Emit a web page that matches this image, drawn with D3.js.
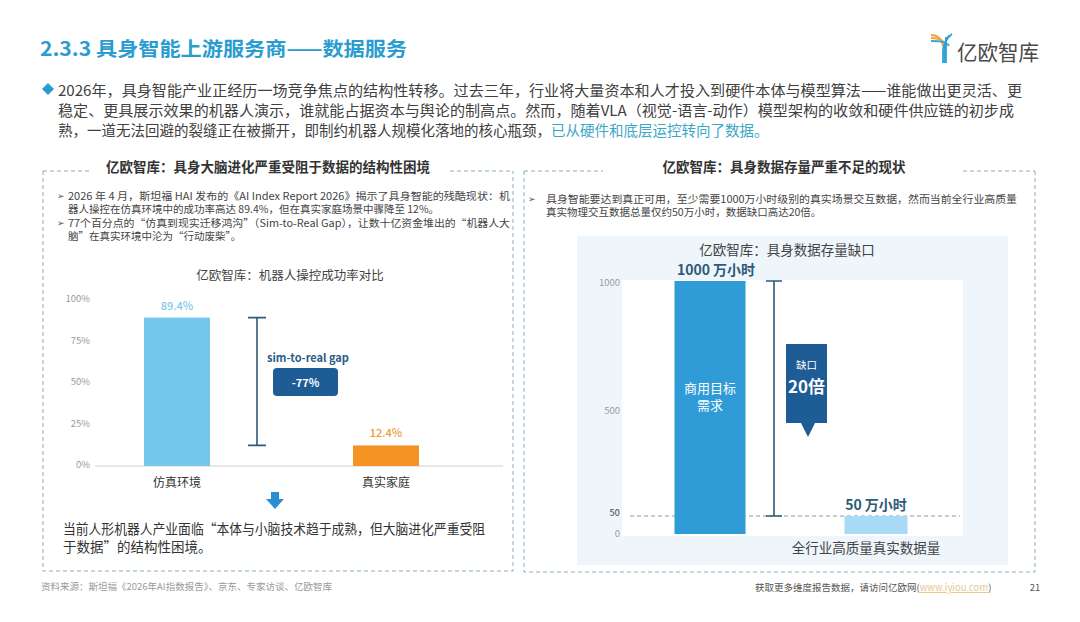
<!DOCTYPE html>
<html>
<head>
<meta charset="utf-8">
<script src="https://cdn.jsdelivr.net/npm/d3@7"></script>
<style>
  body { margin: 0; background: #fff; }
  svg { display: block; font-family: "Noto Sans CJK SC", "Noto Sans", sans-serif; }
</style>
</head>
<body>
<div id="chart"></div>
<script>
// données du graphique de gauche
const simCats = ["仿真环境", "真实家庭"];
const simValues = [89.4, 12.4];
const simLabels = ["89.4%", "12.4%"];
const simColors = ["#74c8ee", "#f39324"];
const simTicks = [0, 25, 50, 75, 100];
const gapLabel = "-77%";

// données du graphique de droite
const dataCats = ["商用目标需求", "全行业高质量真实数据量"];
const dataValues = [1000, 50];
const dataLabels = ["1000 万小时", "50 万小时"];
const dataColors = ["#2f9cd8", "#a8d9f5"];
const dataTicks = [0, 50, 500, 1000];
const gapTimes = "20倍";

const W = 1080, H = 622;
const svg = d3.select("#chart").append("svg")
    .attr("width", W).attr("height", H);

// petite fonction pour ajouter du texte
function txt(g, x, y, s, o) {
    o = o || {};
    const t = g.append("text")
        .attr("x", x).attr("y", y)
        .attr("dominant-baseline", "central")
        .attr("text-anchor", o.anchor || "start")
        .attr("font-size", o.size || 12)
        .attr("font-weight", o.weight || "normal")
        .attr("fill", o.color || "#333")
        .text(s);
    if (o.len) t.attr("textLength", o.len).attr("lengthAdjust", "spacingAndGlyphs");
    return t;
}

// ---- en-tête ----
txt(svg, 40, 47, "2.3.3 具身智能上游服务商——数据服务", { size: 19.5, weight: "bold", color: "#2a9dd0", len: 367 });

// logo
const logo = svg.append("g");
[["#f4a340", 0], ["#f4a340", 3], ["#3aa7dc", 6]].forEach(([c, k]) => {
    logo.append("path")
        .attr("d", `M${931 + 0},${35 + k} Q${941 + k},${35 + k} ${943 + k},${46}`)
        .attr("fill", "none").attr("stroke", c).attr("stroke-width", 1.8);
});
[0, 3, 6].forEach(k => {
    logo.append("path")
        .attr("d", `M${952 - k},${34 + k / 2} Q${944 + k / 3},${40} ${943 + k / 2},${50} L${943 + k / 2},63`)
        .attr("fill", "none").attr("stroke", "#2f9fd6").attr("stroke-width", 1.8);
});
txt(svg, 957, 51, "亿欧智库", { size: 21, color: "#4a4a4a", len: 82 });

// paragraphe principal
svg.append("path").attr("d", "M42,89 l6,-6 l6,6 l-6,6 z").attr("fill", "#2a9dd0");
txt(svg, 58, 89, "2026年，具身智能产业正经历一场竞争焦点的结构性转移。过去三年，行业将大量资本和人才投入到硬件本体与模型算法——谁能做出更灵活、更",
    { size: 14.5, color: "#404040", len: 964 });
txt(svg, 58, 109, "稳定、更具展示效果的机器人演示，谁就能占据资本与舆论的制高点。然而，随着VLA（视觉-语言-动作）模型架构的收敛和硬件供应链的初步成",
    { size: 14.5, color: "#404040", len: 956 });
const l3 = txt(svg, 58, 129, "", { size: 14.5, color: "#404040" });
l3.append("tspan").text("熟，一道无法回避的裂缝正在被撕开，即制约机器人规模化落地的核心瓶颈，");
l3.append("tspan").attr("fill", "#3aa6c8").text("已从硬件和底层运控转向了数据。");

// ---- cadres en pointillés ----
function panel(x0, x1, y0, y1, title, cx, g0, g1) {
    const g = svg.append("g");
    const dash = { stroke: "#86aec2", "stroke-width": 1, "stroke-dasharray": "4,3", fill: "none" };
    const p = g.append("path")
        .attr("d", `M${x0},${y0} L${x0},${y1} L${x1},${y1} L${x1},${y0} M${x0},${y0} L${g0},${y0} M${g1},${y0} L${x1},${y0}`);
    Object.entries(dash).forEach(([k, v]) => p.attr(k, v));
    txt(g, cx, 166, title, { anchor: "middle", size: 13.5, weight: "bold", color: "#333" });
    return g;
}
panel(43, 513, 171, 571, "亿欧智库：具身大脑进化严重受阻于数据的结构性困境", 268, 90, 450);
panel(524, 1035, 171, 572, "亿欧智库：具身数据存量严重不足的现状", 784, 603, 963);

// puces gauche
const bl = svg.append("g");
txt(bl, 57, 195, "➢", { size: 9, color: "#555" });
txt(bl, 68, 195, "2026 年 4 月，斯坦福 HAI 发布的《AI Index Report 2026》揭示了具身智能的残酷现状：机", { size: 10.5, color: "#444", len: 442 });
txt(bl, 68, 208, "器人操控在仿真环境中的成功率高达 89.4%，但在真实家庭场景中骤降至 12%。", { size: 10.5, color: "#444" });
txt(bl, 57, 222, "➢", { size: 9, color: "#555" });
txt(bl, 68, 222, "77个百分点的“仿真到现实迁移鸿沟”（Sim-to-Real Gap），让数十亿资金堆出的“机器人大", { size: 10.5, color: "#444", len: 442 });
txt(bl, 68, 235, "脑”在真实环境中沦为“行动废柴”。", { size: 10.5, color: "#444" });

// ---- graphique gauche ----
const gl = svg.append("g");
txt(gl, 290, 274, "亿欧智库：机器人操控成功率对比", { anchor: "middle", size: 12.5, color: "#444" });

const yL = d3.scaleLinear().domain([0, 100]).range([466, 300]);
const xL = d3.scalePoint().domain(simCats).range([177, 386]);
const barWL = 66;

simTicks.forEach(t => txt(gl, 90, yL(t) - 2, t + "%", { anchor: "end", size: 9.5, color: "#9a9a9a" }));
gl.append("line").attr("x1", 95).attr("x2", 503).attr("y1", yL(0)).attr("y2", yL(0))
    .attr("stroke", "#d0d0d0").attr("stroke-width", 1);

gl.selectAll(".barL").data(simValues).enter().append("rect")
    .attr("x", (d, i) => xL(simCats[i]) - barWL / 2)
    .attr("y", d => yL(d))
    .attr("width", barWL)
    .attr("height", d => yL(0) - yL(d))
    .attr("fill", (d, i) => simColors[i]);

gl.selectAll(".valL").data(simValues).enter().append("text")
    .attr("x", (d, i) => xL(simCats[i]))
    .attr("y", d => yL(d) - 13)
    .attr("text-anchor", "middle").attr("dominant-baseline", "central")
    .attr("font-size", 11).attr("font-weight", 500)
    .attr("fill", (d, i) => i === 0 ? "#7ec8ea" : "#eb9c3a")
    .text((d, i) => simLabels[i]);

simCats.forEach(c => txt(gl, xL(c), 481, c, { anchor: "middle", size: 12, color: "#333" }));

// écart sim-to-real
const bx = xL(simCats[0]) + 80;
gl.append("path")
    .attr("d", `M${bx - 9},${yL(simValues[0])} H${bx + 9} M${bx},${yL(simValues[0])} V${yL(simValues[1])} M${bx - 9},${yL(simValues[1])} H${bx + 9}`)
    .attr("stroke", "#2c5a78").attr("stroke-width", 1.6).attr("fill", "none");
txt(gl, 308, 357, "sim-to-real gap", { anchor: "middle", size: 11, weight: "bold", color: "#2b5c87" });
gl.append("rect").attr("x", 273).attr("y", 368).attr("width", 65).attr("height", 28).attr("rx", 4)
    .attr("fill", "#1e5c96");
txt(gl, 305.5, 382, gapLabel, { anchor: "middle", size: 11, weight: "bold", color: "#fff" });

// flèche vers le bas
gl.append("path").attr("d", "M271,492 h8 v7 h5 l-9,10 l-9,-10 h5 z").attr("fill", "#2a8fd0");

txt(gl, 63, 528, "当前人形机器人产业面临“本体与小脑技术趋于成熟，但大脑进化严重受阻", { size: 13.5, color: "#333", len: 422 });
txt(gl, 63, 546, "于数据”的结构性困境。", { size: 13.5, color: "#333" });

// ---- panneau droit ----
const gr = svg.append("g");
txt(gr, 528, 198, "➢", { size: 9, color: "#555" });
txt(gr, 546, 198, "具身智能要达到真正可用，至少需要1000万小时级别的真实场景交互数据，然而当前全行业高质量", { size: 10.5, color: "#444", len: 471 });
txt(gr, 546, 211, "真实物理交互数据总量仅约50万小时，数据缺口高达20倍。", { size: 10.5, color: "#444" });

gr.append("rect").attr("x", 577).attr("y", 236).attr("width", 431).attr("height", 329).attr("fill", "#eef6fc");
gr.append("rect").attr("x", 622).attr("y", 280).attr("width", 341).attr("height", 256).attr("fill", "#fff");
txt(gr, 787, 249, "亿欧智库：具身数据存量缺口", { anchor: "middle", size: 13.5, color: "#444" });

const yR = d3.scaleLinear().domain([0, 50, 500, 1000]).range([534, 516, 409, 281]);
const xR = d3.scalePoint().domain(dataCats).range([710, 876]);
const barWR = [71, 63];

dataTicks.forEach(t => txt(gr, 620, yR(t) + (t === 0 ? -1 : t === 50 ? -4 : 1), t, {
    anchor: "end", size: 9.5, color: t === 50 ? "#666" : "#9a9a9a", weight: t === 50 ? 500 : "normal"
}));

gr.append("line").attr("x1", 630).attr("x2", 960).attr("y1", yR(50)).attr("y2", yR(50))
    .attr("stroke", "#8a9aa6").attr("stroke-width", 1).attr("stroke-dasharray", "4,3");

const cxR = c => xR(c);
gr.selectAll(".barR").data(dataValues).enter().append("rect")
    .attr("x", (d, i) => cxR(dataCats[i]) - barWR[i] / 2)
    .attr("y", d => yR(d))
    .attr("width", (d, i) => barWR[i])
    .attr("height", d => yR(0) - yR(d))
    .attr("fill", (d, i) => dataColors[i]);

gr.selectAll(".valR").data(dataValues).enter().append("text")
    .attr("x", (d, i) => cxR(dataCats[i]) + (i === 0 ? 6 : 0))
    .attr("y", d => yR(d) - 12)
    .attr("text-anchor", "middle").attr("dominant-baseline", "central")
    .attr("font-size", 14).attr("font-weight", "bold").attr("fill", "#2e5a78")
    .text((d, i) => dataLabels[i]);

txt(gr, cxR(dataCats[0]), 387, "商用目标", { anchor: "middle", size: 13, color: "#fff" });
txt(gr, cxR(dataCats[0]), 404, "需求", { anchor: "middle", size: 13, color: "#fff" });
txt(gr, cxR(dataCats[1]) - 10, 547, "全行业高质量真实数据量", { anchor: "middle", size: 13.5, color: "#444" });

// barre d'écart
const ex = cxR(dataCats[0]) + 64;
gr.append("path")
    .attr("d", `M${ex - 8},${yR(dataValues[0])} H${ex + 8} M${ex},${yR(dataValues[0])} V${yR(dataValues[1])} M${ex - 8},${yR(dataValues[1])} H${ex + 8}`)
    .attr("stroke", "#2c5a78").attr("stroke-width", 1.6).attr("fill", "none");

// bulle 20倍
gr.append("path").attr("d", "M786,344 H827 V423 H815 L808,437 L801,423 H786 Z").attr("fill", "#1e5c96");
txt(gr, 806.5, 364, "缺口", { anchor: "middle", size: 10.5, color: "#fff" });
txt(gr, 806.5, 385, gapTimes, { anchor: "middle", size: 17, weight: "bold", color: "#fff" });

// ---- pied de page ----
txt(svg, 41, 586, "资料来源：斯坦福《2026年AI指数报告》、京东、专家访谈、亿欧智库", { size: 9.5, color: "#9a9a9a" });
const ft = txt(svg, 755, 587, "", { size: 9.5, color: "#555" });
ft.append("tspan").text("获取更多维度报告数据，请访问亿欧网(");
ft.append("tspan").attr("fill", "#e6c98a").attr("text-decoration", "underline").text("www.iyiou.com");
ft.append("tspan").text(")");
txt(svg, 1035, 587, "21", { anchor: "middle", size: 9.5, color: "#555" });
</script>
</body>
</html>
